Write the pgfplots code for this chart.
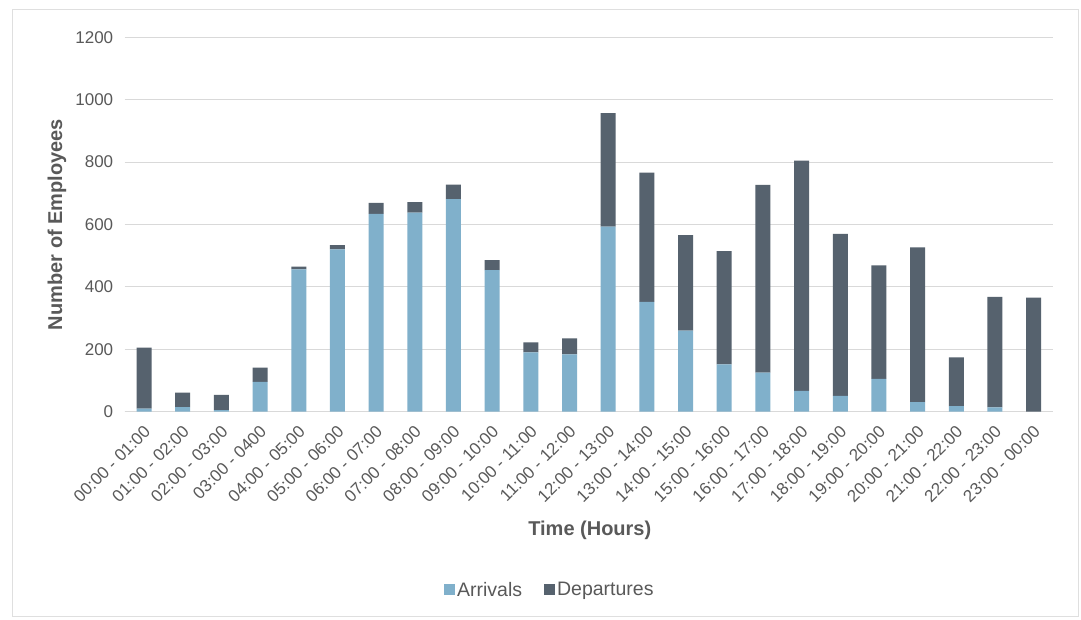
\documentclass[border=0pt]{standalone}
\usepackage{fontspec}
\setmainfont{Liberation Sans}
\usepackage{pgfplots}
\usepackage{pgfplotstable}
\pgfplotsset{compat=1.18}
\definecolor{arrivals}{HTML}{80B0CB}
\definecolor{departures}{HTML}{56626E}
\definecolor{txtgray}{HTML}{595959}
\definecolor{gridgray}{HTML}{D9D9D9}

\pgfplotstableread{
x arr dep
0 10 195
1 15 46
2 5 49
3 96 45
4 456 9
5 520 14
6 634 35
7 638 34
8 681 47
9 454 32
10 190 32
11 184 51
12 593 364
13 352 414
14 260 306
15 152 363
16 125 602
17 67 738
18 51 519
19 105 364
20 31 496
21 18 156
22 14 354
23 0 366
}\shifts

\begin{document}
\begin{tikzpicture}
\useasboundingbox (0pt,0pt) rectangle (1081pt,619pt);
\fill[white] (0pt,0pt) rectangle (1081pt,619pt);
\draw[gray!25, line width=1pt] (12pt,3pt) rectangle (1078pt,609pt);
\begin{axis}[
    at={(124.7pt,207.3pt)},
    anchor=south west,
    scale only axis,
    width=928.3pt,
    height=374.4pt,
    ybar stacked,
    bar width=15pt,
    xmin=-0.5, xmax=23.5,
    ymin=0, ymax=1200,
    enlargelimits=false,
    xtick=data,
    xticklabels={00:00 - 01:00, 01:00 - 02:00, 02:00 - 03:00, 03:00 - 0400, 04:00 - 05:00, 05:00 - 06:00, 06:00 - 07:00, 07:00 - 08:00, 08:00 - 09:00, 09:00 - 10:00, 10:00 - 11:00, 11:00 - 12:00, 12:00 - 13:00, 13:00 - 14:00, 14:00 - 15:00, 15:00 - 16:00, 16:00 - 17:00, 17:00 - 18:00, 18:00 - 19:00, 19:00 - 20:00, 20:00 - 21:00, 21:00 - 22:00, 22:00 - 23:00, 23:00 - 00:00},
    ytick={0,200,...,1200},
    /pgf/number format/assume math mode=true,
    /pgf/number format/1000 sep={},
    major tick length=0pt,
    axis x line*=bottom,
    axis y line*=left,
    x axis line style={draw=gridgray, line width=1pt},
    y axis line style={draw=none},
    ymajorgrids,
    grid style={gridgray, line width=1pt},
    tick label style={font=\fontsize{17}{20}\selectfont, text=txtgray},
    xticklabel style={rotate=45, anchor=north east, inner sep=2pt, xshift=-7.4pt, yshift=-5.9pt},
    yticklabel style={anchor=east, xshift=-8pt},
    xlabel={Time (Hours)},
    ylabel={Number of Employees},
    label style={font=\fontsize{20}{24}\selectfont\bfseries, text=txtgray},
    xlabel style={at={(axis description cs:0.501,-0.316)}, anchor=center},
    ylabel style={at={(axis description cs:-0.0729,0.5)}, anchor=center},
    legend columns=2,
    area legend,
    legend style={at={(axis description cs:0.458,-0.476)}, anchor=center, draw=none,
        font=\fontsize{19.5}{23}\selectfont, text=txtgray,
        /tikz/every even column/.append style={column sep=20pt}},
    legend image code/.code={\fill[#1] (0pt,-5.5pt) rectangle (11pt,5.5pt);},
]
\addplot[fill=arrivals, draw=none] table[x=x, y=arr] {\shifts};
\addplot[fill=departures, draw=none] table[x=x, y=dep] {\shifts};
\legend{Arrivals, Departures}
\end{axis}
\end{tikzpicture}
\end{document}
